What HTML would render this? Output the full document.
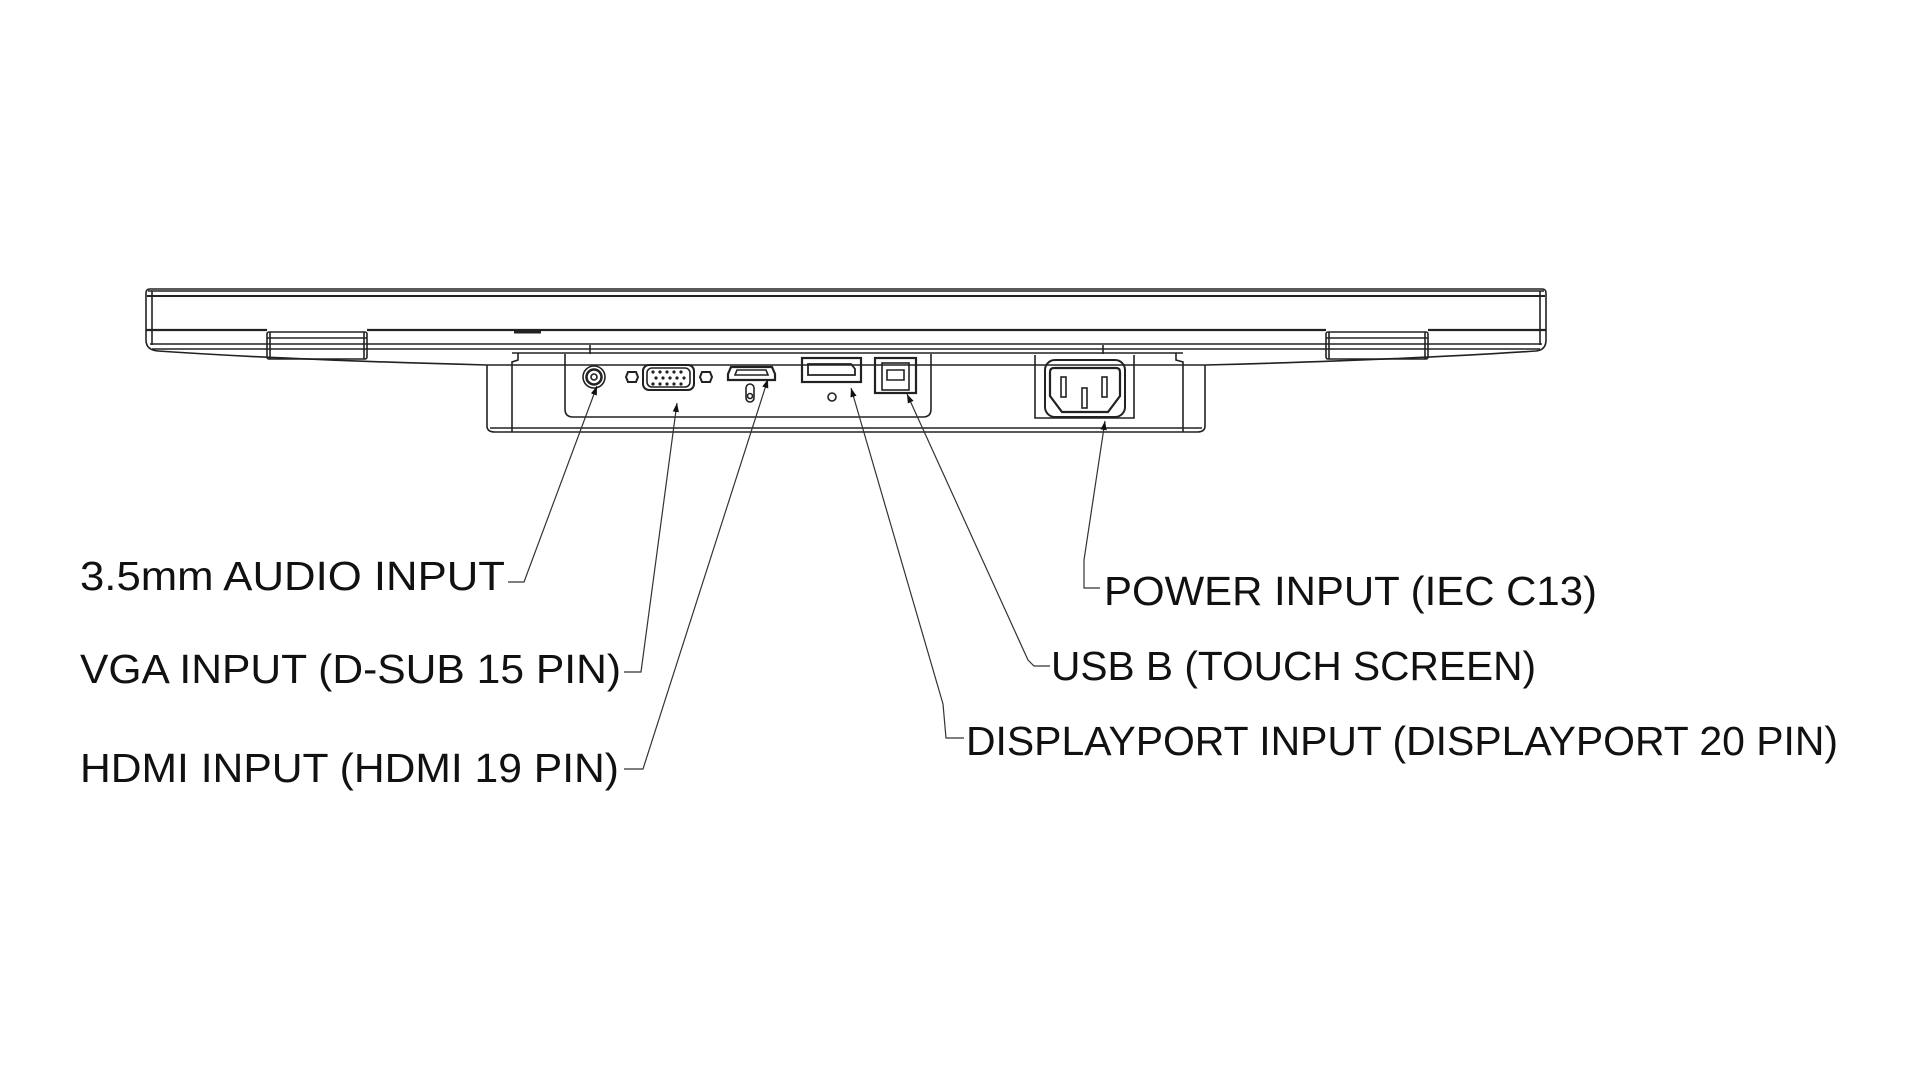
<!DOCTYPE html>
<html><head><meta charset="utf-8"><style>
html,body{margin:0;padding:0;background:#fff;}
svg{display:block}
text{font-family:"Liberation Sans",sans-serif;fill:#111;}
</style></head><body>
<svg width="1920" height="1080" viewBox="0 0 1920 1080" xmlns="http://www.w3.org/2000/svg">
<defs>
<marker id="ar" viewBox="0 0 10 10" refX="10" refY="5" markerWidth="9" markerHeight="9" markerUnits="userSpaceOnUse" orient="auto"><path d="M0,1.5 L10,5 L0,8.5 z" fill="#111"/></marker>
</defs>
<g fill="none" stroke="#222" stroke-width="1.6">
<!-- top body -->
<path d="M150,289 L1542,289 Q1546,289 1546,293 L1546,340 Q1546,350 1536,351 Q1400,360 1205,365 L487,365 Q290,360 158,351 Q146,350 146,340 L146,293 Q146,289 150,289 Z"/>
<line x1="148" y1="291" x2="1544" y2="291"/>
<line x1="147" y1="296" x2="1545" y2="296" stroke-width="2"/>
<line x1="152" y1="291" x2="152" y2="345"/>
<line x1="1540" y1="291" x2="1540" y2="345"/>
<line x1="146" y1="330" x2="267" y2="330" stroke-width="2.2"/>
<line x1="367" y1="330" x2="1326" y2="330" stroke-width="2.2"/>
<line x1="1428" y1="330" x2="1546" y2="330" stroke-width="2.2"/>
<line x1="514" y1="332" x2="541" y2="332" stroke-width="3"/>
<line x1="150" y1="344" x2="1542" y2="344"/>
<line x1="152" y1="349" x2="1540" y2="349"/>
<!-- feet -->
<rect x="267" y="332" width="100" height="27" rx="2"/>
<line x1="267" y1="338" x2="367" y2="338"/>
<line x1="270" y1="332" x2="270" y2="359"/><line x1="364" y1="332" x2="364" y2="359"/>
<rect x="1326" y="332" width="102" height="27" rx="2"/>
<line x1="1326" y1="338" x2="1428" y2="338"/>
<line x1="1329" y1="332" x2="1329" y2="359"/><line x1="1425" y1="332" x2="1425" y2="359"/>
<!-- stand -->
<path d="M487,365 L487,426 Q487,432 495,432 L1197,432 Q1205,432 1205,426 L1205,365"/>
<path d="M518,353 L518,360 L512,362 L512,432"/>
<path d="M1176,353 L1176,360 L1183,362 L1183,432"/>
<line x1="490" y1="428" x2="1202" y2="428"/>
<line x1="512" y1="353" x2="1183" y2="353"/>
<!-- port panel -->
<path d="M565,354 L565,409 Q565,417 573,417 L923,417 Q931,417 931,409 L931,354"/>
<line x1="590" y1="345" x2="590" y2="354"/>
<line x1="1103" y1="345" x2="1103" y2="354"/>
<!-- audio -->
<circle cx="594" cy="377" r="11"/><circle cx="594" cy="377" r="7.5" stroke-width="2.5"/><circle cx="594" cy="377" r="3"/>
<!-- VGA -->
<rect x="643" y="365" width="51" height="25" rx="6" stroke-width="2"/>
<rect x="647" y="368" width="43" height="19" rx="5"/>
<g fill="#222" stroke="none">
<circle cx="653" cy="372" r="1.6"/><circle cx="660" cy="372" r="1.6"/><circle cx="667" cy="372" r="1.6"/><circle cx="674" cy="372" r="1.6"/><circle cx="681" cy="372" r="1.6"/>
<circle cx="656" cy="378" r="1.6"/><circle cx="663" cy="378" r="1.6"/><circle cx="670" cy="378" r="1.6"/><circle cx="677" cy="378" r="1.6"/><circle cx="684" cy="378" r="1.6"/>
<circle cx="653" cy="384" r="1.6"/><circle cx="660" cy="384" r="1.6"/><circle cx="667" cy="384" r="1.6"/><circle cx="674" cy="384" r="1.6"/><circle cx="681" cy="384" r="1.6"/>
</g>
<polygon points="628,372 636,372 638,377 636,382 628,382 626,377" stroke-width="2"/>
<polygon points="702,372 710,372 712,377 710,382 702,382 700,377" stroke-width="2"/>
<!-- HDMI -->
<path d="M731,367 L772,367 L775,374 L775,380 L728,380 L728,374 Z" stroke-width="2.2"/>
<path d="M737,370 L766,370 L768,375 L735,375 Z"/>
<rect x="746" y="384" width="8" height="18" rx="4"/>
<circle cx="750" cy="396" r="2.5"/>
<!-- DP -->
<rect x="802" y="358" width="59" height="24" stroke-width="2.2"/>
<path d="M808,364 L851,364 L855,369 L855,375 L808,375 Z" stroke-width="1.8"/>
<circle cx="832" cy="397" r="4"/>
<!-- USB B -->
<rect x="875" y="358" width="41" height="35" stroke-width="2.2"/>
<rect x="882" y="363" width="27" height="27"/>
<path d="M887,370 L904,370 L904,380 L887,380 Z"/>
<!-- power -->
<path d="M1035,355 L1035,418 L1134,418 L1134,355"/>
<rect x="1045" y="360" width="80" height="57" rx="10" stroke-width="2"/>
<path d="M1050,372 Q1050,368 1054,368 L1116,368 Q1120,368 1120,372 L1120,396 L1108,412 L1062,412 L1050,396 Z" stroke-width="2.2"/>
<rect x="1061" y="377" width="5" height="20" stroke-width="1.6"/>
<rect x="1102" y="377" width="5" height="20" stroke-width="1.6"/>
<rect x="1082" y="388" width="5" height="20" stroke-width="1.6"/>
</g>
<!-- leaders -->
<g fill="none" stroke="#333" stroke-width="1.2">
<path d="M508,582 L524,582 L597,386" marker-end="url(#ar)"/>
<path d="M624,672 L641,672 L677,403" marker-end="url(#ar)"/>
<path d="M624,769 L643,769 L768,379" marker-end="url(#ar)"/>
<path d="M1100,588 L1084,588 L1084,560 L1105,421" marker-end="url(#ar)"/>
<path d="M1050,666 L1034,666 L1028,660 L907,394" marker-end="url(#ar)"/>
<path d="M964,738 L946,738 L943,704 L851,388" marker-end="url(#ar)"/>
</g>
<g font-size="41">
<text x="80" y="590" textLength="425" lengthAdjust="spacingAndGlyphs">3.5mm AUDIO INPUT</text>
<text x="80" y="683" textLength="541" lengthAdjust="spacingAndGlyphs">VGA INPUT (D-SUB 15 PIN)</text>
<text x="80" y="782" textLength="539" lengthAdjust="spacingAndGlyphs">HDMI INPUT (HDMI 19 PIN)</text>
<text x="1104" y="605" textLength="493" lengthAdjust="spacingAndGlyphs">POWER INPUT (IEC C13)</text>
<text x="1051" y="680" textLength="485" lengthAdjust="spacingAndGlyphs">USB B (TOUCH SCREEN)</text>
<text x="966" y="755" textLength="872" lengthAdjust="spacingAndGlyphs">DISPLAYPORT INPUT (DISPLAYPORT 20 PIN)</text>
</g>
</svg>
</body></html>
